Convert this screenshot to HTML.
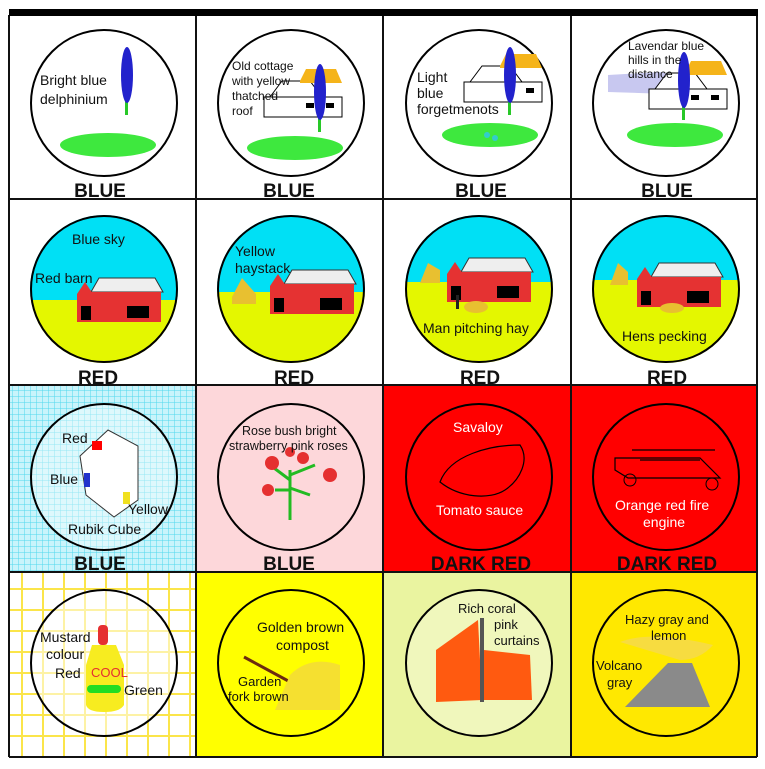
<!DOCTYPE html>
<html><head><meta charset="utf-8"><style>
html,body{margin:0;padding:0;background:#fff;width:765px;height:769px;overflow:hidden}
svg{display:block}
text{font-family:"Liberation Sans",sans-serif}
.lab{font-weight:bold;font-size:19px;text-anchor:middle;fill:#111}
.t{font-size:14px;fill:#111}
.w{font-size:14px;fill:#fff}
</style></head><body>
<svg width="765" height="769" viewBox="0 0 765 769">
<defs>
<pattern id="blueGrid" width="6" height="6" patternUnits="userSpaceOnUse"><rect width="6" height="6" fill="#c9f4fb"/><path d="M0 0H6M0 0V6" stroke="#4fd8ee" stroke-width="1"/></pattern>
<pattern id="yelGrid" width="21" height="21" patternUnits="userSpaceOnUse"><rect width="21" height="21" fill="#fff"/><path d="M0 1H21M1 0V21" stroke="#fbe54a" stroke-width="2"/></pattern>
<g id="barn"><polygon points="-34,-8 -26,-22 30,-22 38,-8" fill="#eee" stroke="#333" stroke-width="1"/><rect x="-34" y="-8" width="70" height="30" fill="#e53232"/><polygon points="-48,-6 -40,-18 -32,-6" fill="#e53232"/><rect x="-48" y="-6" width="16" height="28" fill="#e53232"/><rect x="-44" y="6" width="10" height="14" fill="#000"/><rect x="2" y="6" width="22" height="12" fill="#000"/></g>
<g id="delph"><rect x="-2" y="0" width="3" height="60" fill="#28c828"/><ellipse cx="0" cy="20" rx="6" ry="28" fill="#2222cc"/></g>
<g id="grass"><ellipse cx="0" cy="0" rx="48" ry="12" fill="#3ee83e"/></g>
<g id="cottage"><polygon points="-30,-8 -18,-24 10,-24 22,-8" fill="#fff" stroke="#000"/><polygon points="0,-24 6,-36 36,-36 42,-22 0,-22" fill="#f5b41a"/><rect x="-36" y="-8" width="78" height="20" fill="#fff" stroke="#000"/><rect x="6" y="-2" width="8" height="5" fill="#000"/><rect x="26" y="-2" width="8" height="5" fill="#000"/></g>
<clipPath id="c1"><circle cx="104" cy="289" r="74"/></clipPath>
<clipPath id="c2"><circle cx="291" cy="289" r="74"/></clipPath>
<clipPath id="c3"><circle cx="479" cy="289" r="74"/></clipPath>
<clipPath id="c4"><circle cx="666" cy="289" r="74"/></clipPath>
</defs>

<!-- backgrounds -->
<rect x="9" y="385" width="187" height="187" fill="url(#blueGrid)"/>
<rect x="196" y="385" width="187" height="187" fill="#fdd7da"/>
<rect x="383" y="385" width="374" height="187" fill="#ff0000"/>
<rect x="9" y="572" width="187" height="185" fill="url(#yelGrid)"/>
<rect x="196" y="572" width="187" height="185" fill="#ffff00"/>
<rect x="383" y="572" width="188" height="185" fill="#eaf4a0"/>
<rect x="571" y="572" width="186" height="185" fill="#ffe800"/>

<!-- Row 1 -->
<g>
<circle cx="104" cy="103" r="73" fill="#fff" stroke="#000" stroke-width="2"/>
<use href="#grass" x="108" y="145"/><use href="#delph" x="127" y="55"/>
<text class="t" x="40" y="85">Bright blue</text><text class="t" x="40" y="104">delphinium</text>
<text class="lab" x="100" y="197">BLUE</text></g>
<g>
<circle cx="291" cy="103" r="73" fill="#fff" stroke="#000" stroke-width="2"/>
<use href="#cottage" x="300" y="105"/><use href="#grass" x="295" y="148"/><use href="#delph" x="320" y="72"/>
<text class="t" x="232" y="70" style="font-size:12px">Old cottage</text><text class="t" x="232" y="85" style="font-size:12px">with yellow</text><text class="t" x="232" y="100" style="font-size:12px">thatched</text><text class="t" x="232" y="115" style="font-size:12px">roof</text>
<text class="lab" x="289" y="197">BLUE</text></g>
<g>
<circle cx="479" cy="103" r="73" fill="#fff" stroke="#000" stroke-width="2"/>
<use href="#cottage" x="500" y="90"/><use href="#grass" x="490" y="135"/><use href="#delph" x="510" y="55"/>
<circle cx="487" cy="135" r="3" fill="#3cc"/><circle cx="495" cy="138" r="3" fill="#3cc"/>
<text class="t" x="417" y="82">Light</text><text class="t" x="417" y="98">blue</text><text class="t" x="417" y="114">forgetmenots</text>
<text class="lab" x="481" y="197">BLUE</text></g>
<g>
<circle cx="666" cy="103" r="73" fill="#fff" stroke="#000" stroke-width="2"/>
<polygon points="608,75 660,72 700,80 700,95 608,92" fill="#c8c8f0"/>
<use href="#cottage" x="685" y="97"/><use href="#grass" x="675" y="135"/><use href="#delph" x="684" y="60"/>
<text class="t" x="628" y="50" style="font-size:12px">Lavendar blue</text><text class="t" x="628" y="64" style="font-size:12px">hills in the</text><text class="t" x="628" y="78" style="font-size:12px">distance</text>
<text class="lab" x="667" y="197">BLUE</text></g>

<!-- Row 2 -->
<g><g clip-path="url(#c1)"><rect x="20" y="200" width="170" height="100" fill="#00e0f5"/><rect x="20" y="300" width="170" height="80" fill="#e4f700"/><use href="#barn" x="125" y="300"/></g>
<circle cx="104" cy="289" r="73" fill="none" stroke="#000" stroke-width="2"/>
<text class="t" x="72" y="244">Blue sky</text><text class="t" x="35" y="283">Red barn</text>
<text class="lab" x="98" y="384">RED</text></g>
<g><g clip-path="url(#c2)"><rect x="200" y="200" width="180" height="92" fill="#00e0f5"/><rect x="200" y="292" width="180" height="90" fill="#e4f700"/><use href="#barn" x="318" y="292"/><polygon points="232,297 242,278 256,294 256,304 232,304" fill="#e8c030"/></g>
<circle cx="291" cy="289" r="73" fill="none" stroke="#000" stroke-width="2"/>
<text class="t" x="235" y="256">Yellow</text><text class="t" x="235" y="273">haystack</text>
<text class="lab" x="294" y="384">RED</text></g>
<g><g clip-path="url(#c3)"><rect x="400" y="200" width="160" height="82" fill="#00e0f5"/><rect x="400" y="282" width="160" height="90" fill="#e4f700"/><use href="#barn" x="495" y="280"/><polygon points="420,283 428,263 440,270 440,283" fill="#e8c030"/><ellipse cx="476" cy="307" rx="12" ry="6" fill="#e8c030"/><rect x="456" y="295" width="3" height="14" fill="#222"/></g>
<circle cx="479" cy="289" r="73" fill="none" stroke="#000" stroke-width="2"/>
<text class="t" x="423" y="333">Man pitching hay</text>
<text class="lab" x="480" y="384">RED</text></g>
<g><g clip-path="url(#c4)"><rect x="580" y="200" width="170" height="80" fill="#00e0f5"/><rect x="580" y="280" width="170" height="90" fill="#e4f700"/><use href="#barn" x="685" y="285"/><polygon points="610,285 618,263 628,272 628,285" fill="#e8c030"/><ellipse cx="672" cy="308" rx="12" ry="5" fill="#e8c030"/></g>
<circle cx="666" cy="289" r="73" fill="none" stroke="#000" stroke-width="2"/>
<text class="t" x="622" y="341">Hens pecking</text>
<text class="lab" x="667" y="384">RED</text></g>

<!-- Row 3 -->
<g>
<circle cx="104" cy="477" r="73" fill="#fff" stroke="#000" stroke-width="2" fill-opacity="0.4"/>
<polygon points="80,456 108,430 138,446 138,500 114,517 86,495" fill="#fff" stroke="#333"/>
<rect x="92" y="441" width="10" height="9" fill="red"/><rect x="84" y="473" width="6" height="14" fill="#2233cc"/><rect x="123" y="492" width="7" height="12" fill="#f0e020"/>
<text class="t" x="62" y="443">Red</text><text class="t" x="50" y="484">Blue</text><text class="t" x="128" y="514">Yellow</text><text class="t" x="68" y="534">Rubik Cube</text>
<text class="lab" x="100" y="570">BLUE</text></g>
<g>
<circle cx="291" cy="477" r="73" fill="none" stroke="#000" stroke-width="2"/>
<path d="M290 520 V470 M290 480 L270 465 M290 475 L315 465 M290 490 L275 490 M290 488 L310 495" stroke="#22bb22" stroke-width="3"/>
<circle cx="272" cy="463" r="7" fill="#e53030"/><circle cx="303" cy="458" r="6" fill="#e53030"/><circle cx="330" cy="475" r="7" fill="#e53030"/><circle cx="268" cy="490" r="6" fill="#e53030"/><circle cx="290" cy="452" r="5" fill="#e53030"/>
<text class="t" x="242" y="435" style="font-size:12.5px">Rose bush bright</text><text class="t" x="229" y="450" style="font-size:12.5px">strawberry pink roses</text>
<text class="lab" x="289" y="570">BLUE</text></g>
<g>
<circle cx="479" cy="477" r="73" fill="none" stroke="#000" stroke-width="2"/>
<path d="M440 482 C450 455 490 445 520 445 C530 460 520 480 505 490 C490 500 460 498 440 482 Z" fill="none" stroke="#000" stroke-width="1.2"/>
<text class="w" x="453" y="432">Savaloy</text><text class="w" x="436" y="515">Tomato sauce</text>
<text class="lab" x="481" y="570">DARK RED</text></g>
<g>
<circle cx="666" cy="477" r="73" fill="none" stroke="#000" stroke-width="2"/>
<path d="M615 470 V458 H700 L720 478 H628 Z M632 450 H715 M640 460 H700" fill="none" stroke="#000" stroke-width="1.2"/>
<circle cx="630" cy="480" r="6" fill="none" stroke="#000"/><circle cx="712" cy="484" r="6" fill="none" stroke="#000"/>
<text class="w" x="615" y="510">Orange red fire</text><text class="w" x="643" y="527">engine</text>
<text class="lab" x="667" y="570">DARK RED</text></g>

<!-- Row 4 -->
<g>
<circle cx="104" cy="663" r="73" fill="#fff" fill-opacity="0.5" stroke="#000" stroke-width="2"/>
<rect x="98" y="625" width="10" height="20" rx="4" fill="#e53030"/>
<path d="M92 645 H116 L124 665 V705 Q120 712 104 712 Q88 712 86 705 V665 Z" fill="#f7ec20"/>
<rect x="87" y="685" width="34" height="8" rx="4" fill="#22dd22"/>
<text x="91" y="677" style="font-size:13px;fill:#e53030">COOL</text>
<text class="t" x="40" y="642">Mustard</text><text class="t" x="46" y="659">colour</text><text class="t" x="55" y="678">Red</text><text class="t" x="124" y="695">Green</text></g>
<g>
<circle cx="291" cy="663" r="73" fill="none" stroke="#000" stroke-width="2"/>
<path d="M244 657 L292 683" stroke="#6b2a10" stroke-width="3"/>
<path d="M290 675 Q310 655 340 665 L340 710 L275 710 Z" fill="#f5e030"/>
<text class="t" x="257" y="632">Golden brown</text><text class="t" x="276" y="650">compost</text><text class="t" x="238" y="686" style="font-size:13px">Garden</text><text class="t" x="228" y="701" style="font-size:13px">fork brown</text></g>
<g>
<circle cx="479" cy="663" r="73" fill="#fff" fill-opacity="0.3" stroke="#000" stroke-width="2"/>
<path d="M436 650 L478 620 L482 700 L436 702 Z" fill="#ff5a10"/>
<path d="M484 650 L530 655 L532 700 L484 700 Z" fill="#ff5a10"/>
<rect x="480" y="618" width="4" height="84" fill="#555"/>
<text class="t" x="458" y="613" style="font-size:13px">Rich coral</text><text class="t" x="494" y="629" style="font-size:13px">pink</text><text class="t" x="494" y="645" style="font-size:13px">curtains</text></g>
<g>
<circle cx="666" cy="663" r="73" fill="none" stroke="#000" stroke-width="2"/>
<path d="M620 642 Q650 630 713 645 Q700 660 680 660 Z" fill="#f7dc40"/>
<polygon points="625,707 668,663 692,663 710,707" fill="#8a8a8a"/>
<text class="t" x="625" y="624" style="font-size:13px">Hazy gray and</text><text class="t" x="651" y="640" style="font-size:13px">lemon</text><text class="t" x="596" y="670" style="font-size:13px">Volcano</text><text class="t" x="607" y="687" style="font-size:13px">gray</text></g>

<!-- grid lines -->
<g stroke="#111" stroke-width="2">
<path d="M9 15 V757 M196 15 V757 M383 15 V757 M571 15 V757 M757 15 V757"/>
<path d="M9 199 H757 M9 385 H757 M9 572 H757 M9 757 H757"/>
</g>
<rect x="9" y="9" width="749" height="7" fill="#000"/>
</svg>
</body></html>
